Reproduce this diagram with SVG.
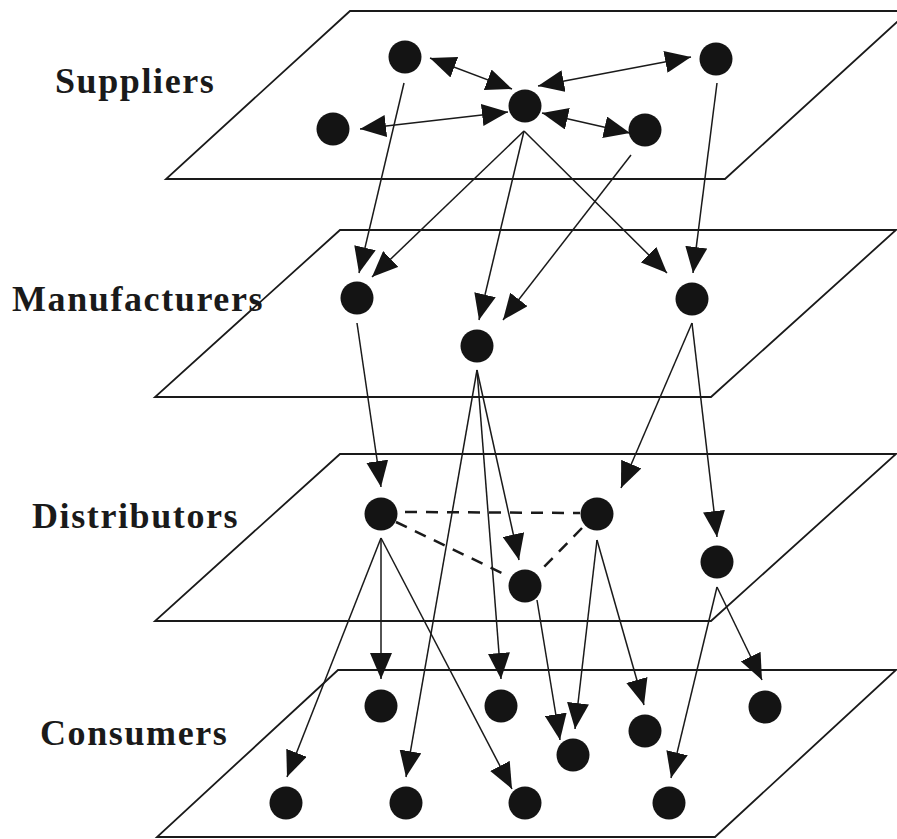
<svg xmlns="http://www.w3.org/2000/svg" width="897" height="839" viewBox="0 0 897 839">
  <style>
    .plane { fill: #ffffff; stroke: #1a1a1a; stroke-width: 1.8; stroke-linejoin: miter; }
    .label { font-family: "Liberation Serif", "Times New Roman", serif; font-weight: bold; font-size: 36px; fill: #1a1a1a; letter-spacing: 1.6px; }
    .node { fill: #141414; }
    .link { stroke: #1a1a1a; stroke-width: 1.5; fill: none; marker-end: url(#ah); }
    .both { marker-start: url(#ah); }
    .peer { stroke: #1a1a1a; stroke-width: 2.5; stroke-dasharray: 12 9; fill: none; }
  </style>
  <defs>
    <marker id="ah" markerUnits="userSpaceOnUse" markerWidth="26" markerHeight="22" viewBox="0 0 26 22" refX="26" refY="11" orient="auto-start-reverse">
      <path d="M0,0 L26,11 L0,22 z" fill="#141414"/>
    </marker>
  </defs>
  <rect width="897" height="839" fill="#ffffff"/>

  <!-- tier planes -->
  <g id="planes">
    <polygon class="plane" points="350,11 909,11 725,179 166,179"/>
    <polygon class="plane" points="340,230 896,230 711,397 155,397"/>
    <polygon class="plane" points="340,454 896,454 711,621 155,621"/>
    <polygon class="plane" points="338,670 896,670 715,837 157,837"/>
  </g>

  <!-- tier labels -->
  <g id="labels">
    <text class="label" x="55" y="93">Suppliers</text>
    <text class="label" x="12" y="311">Manufacturers</text>
    <text class="label" x="32" y="528">Distributors</text>
    <text class="label" x="40" y="745">Consumers</text>
  </g>

  <!-- connectors -->
  <g id="connectors">
    <!-- two-way links among suppliers -->
    <line class="link both" x1="430" y1="58" x2="512" y2="89"/>
    <line class="link both" x1="538" y1="86" x2="691" y2="57"/>
    <line class="link both" x1="360" y1="129" x2="508" y2="112"/>
    <line class="link both" x1="542" y1="113" x2="630" y2="133"/>
    <!-- suppliers to manufacturers -->
    <line class="link" x1="404" y1="83" x2="359" y2="273"/>
    <line class="link" x1="524" y1="131" x2="372" y2="277"/>
    <line class="link" x1="524" y1="131" x2="479" y2="320"/>
    <line class="link" x1="524" y1="131" x2="667" y2="273"/>
    <line class="link" x1="631" y1="155" x2="503" y2="320"/>
    <line class="link" x1="717" y1="83" x2="693" y2="273"/>
    <!-- manufacturers to distributors / consumers -->
    <line class="link" x1="357" y1="323" x2="381" y2="487"/>
    <line class="link" x1="692" y1="323" x2="621" y2="488"/>
    <line class="link" x1="692" y1="323" x2="717" y2="537"/>
    <line class="link" x1="477" y1="370" x2="519" y2="560"/>
    <line class="link" x1="477" y1="370" x2="501" y2="679"/>
    <line class="link" x1="477" y1="370" x2="406" y2="777"/>
    <!-- distributors to consumers -->
    <line class="link" x1="381" y1="538" x2="287" y2="777"/>
    <line class="link" x1="381" y1="538" x2="381" y2="679"/>
    <line class="link" x1="381" y1="538" x2="512" y2="789"/>
    <line class="link" x1="537" y1="600" x2="560" y2="740"/>
    <line class="link" x1="597" y1="540" x2="575" y2="729"/>
    <line class="link" x1="597" y1="540" x2="644" y2="705"/>
    <line class="link" x1="717" y1="587" x2="762" y2="680"/>
    <line class="link" x1="717" y1="587" x2="671" y2="778"/>
    <!-- cooperation among distributors -->
    <line class="peer" x1="405" y1="512" x2="580" y2="513"/>
    <line class="peer" x1="396" y1="522" x2="506" y2="575"/>
    <line class="peer" x1="582" y1="528" x2="541" y2="570"/>
  </g>

  <!-- suppliers -->
  <g id="supplier-1"><circle class="node" cx="405" cy="57" r="16.5"/></g>
  <g id="supplier-2"><circle class="node" cx="716" cy="59" r="16.5"/></g>
  <g id="supplier-3"><circle class="node" cx="525" cy="106" r="16.5"/></g>
  <g id="supplier-4"><circle class="node" cx="333" cy="129" r="16.5"/></g>
  <g id="supplier-5"><circle class="node" cx="645" cy="130" r="16.5"/></g>

  <!-- manufacturers -->
  <g id="manufacturer-1"><circle class="node" cx="357" cy="298" r="16.5"/></g>
  <g id="manufacturer-2"><circle class="node" cx="477" cy="346" r="16.5"/></g>
  <g id="manufacturer-3"><circle class="node" cx="692" cy="299" r="16.5"/></g>

  <!-- distributors -->
  <g id="distributor-1"><circle class="node" cx="381" cy="514" r="16.5"/></g>
  <g id="distributor-2"><circle class="node" cx="597" cy="514" r="16.5"/></g>
  <g id="distributor-3"><circle class="node" cx="525" cy="586" r="16.5"/></g>
  <g id="distributor-4"><circle class="node" cx="717" cy="562" r="16.5"/></g>

  <!-- consumers -->
  <g id="consumer-1"><circle class="node" cx="381" cy="706" r="16.5"/></g>
  <g id="consumer-2"><circle class="node" cx="501" cy="706" r="16.5"/></g>
  <g id="consumer-3"><circle class="node" cx="645" cy="731" r="16.5"/></g>
  <g id="consumer-4"><circle class="node" cx="765" cy="707" r="16.5"/></g>
  <g id="consumer-5"><circle class="node" cx="573" cy="755" r="16.5"/></g>
  <g id="consumer-6"><circle class="node" cx="286" cy="803" r="16.5"/></g>
  <g id="consumer-7"><circle class="node" cx="406" cy="803" r="16.5"/></g>
  <g id="consumer-8"><circle class="node" cx="525" cy="803" r="16.5"/></g>
  <g id="consumer-9"><circle class="node" cx="669" cy="803" r="16.5"/></g>
</svg>
